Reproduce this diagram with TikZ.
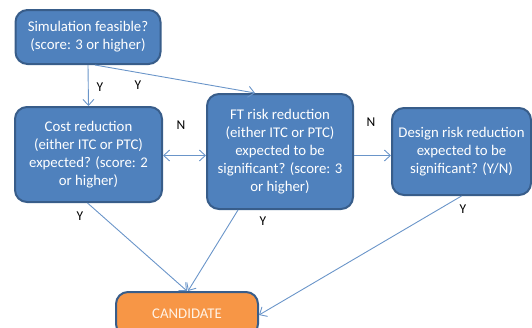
\documentclass[tikz,border=0pt]{standalone}
\usepackage{fontspec}
\setmainfont{Carlito}
\usetikzlibrary{arrows.meta,calc}
\definecolor{boxfill}{HTML}{4F81BD}
\definecolor{boxline}{HTML}{385D8A}
\definecolor{candfill}{HTML}{F79646}
\definecolor{arrowc}{HTML}{6A95C9}
\tikzset{
  box/.style={draw=boxline, line width=2pt, fill=boxfill, rounded corners=12pt,
    text=white, align=center, inner sep=2pt,
    font=\fontsize{14.8}{18}\selectfont},
  cbox/.style={box, fill=candfill, text=white!90!orange},
  conn/.style={draw=arrowc, line width=0.9pt, -{Straight Barb[length=6pt,width=11pt]}},
  lbl/.style={font=\fontsize{13.5}{15}\selectfont, text=black, inner sep=0pt}
}
\begin{document}
\begin{tikzpicture}[x=1pt,y=-1pt]
\useasboundingbox (0,0) rectangle (532,327);
\clip (0,0) rectangle (532,327);
\node[box, minimum width=145pt, minimum height=54pt] (b1) at (88,37)
  {Simulation feasible?\\(score: 3 or higher)};
\node[box, minimum width=147pt, minimum height=95pt] (b2) at (88.5,154.5)
  {Cost reduction\\(either ITC or PTC)\\expected? (score: 2\\or higher)};
\node[box, minimum width=146pt, minimum height=115pt] (b3) at (280,151.5)
  {FT risk reduction\\(either ITC or PTC)\\expected to be\\significant? (score: 3\\or higher)};
\node[box, minimum width=139pt, minimum height=87pt] (b4) at (461.5,151.5)
  {Design risk reduction\\expected to be\\significant? (Y/N)};
\node[cbox, minimum width=142pt, minimum height=44pt] (c) at (187,314)
  {CANDIDATE};

\draw[conn] (b1.south) -- (b2.north);
\draw[conn] ($(b1.south)+(7,0)$) -- ($(b3.north)+(-25,0)$);
\draw[draw=arrowc, line width=0.9pt, {Straight Barb[length=6pt,width=11pt]}-{Straight Barb[length=6pt,width=11pt]}]
  ($(b2.east)+(0,1)$) -- ($(b3.west)+(0,4)$);
\draw[conn] ($(b3.east)+(0,4)$) -- ($(b4.west)+(0,4)$);
\draw[conn] ($(b2.south)+(-1,0)$) -- (c.north);
\draw[conn] ($(b3.south)+(-42,0)$) -- ($(c.north)+(1,0)$);
\draw[conn] (b4.south) -- ($(c.east)+(0,1)$);

\node[lbl] (y1) at (100,87) {Y};
\node[lbl] (y2) at (138,85) {Y};
\node[lbl] (n1) at (181,125) {N};
\node[lbl] (n2) at (371,122) {N};
\node[lbl] (y3) at (80,216) {Y};
\node[lbl] (y4) at (263,221) {Y};
\node[lbl] (y5) at (463,209) {Y};
\end{tikzpicture}
\end{document}
